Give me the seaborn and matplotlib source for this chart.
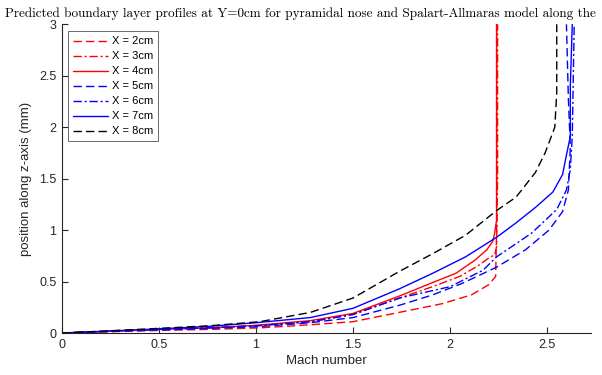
import matplotlib
matplotlib.use("Agg")
import matplotlib.pyplot as plt
import seaborn as sns
import pandas as pd

# Boundary layer profiles (Mach number vs. wall-normal position in mm)
labels = ["X = 2cm", "X = 3cm", "X = 4cm", "X = 5cm", "X = 6cm", "X = 7cm", "X = 8cm"]

z_x2 = [0, 0.012, 0.025, 0.035, 0.05, 0.08, 0.11, 0.22, 0.285, 0.37, 0.47, 0.55, 1.0, 2.0, 3.0]
m_x2 = [0, 0.25, 0.50, 0.76, 1.02, 1.28, 1.50, 1.79, 1.96, 2.11, 2.20, 2.235, 2.24, 2.24, 2.24]

z_x3 = [0, 0.017, 0.035, 0.05, 0.07, 0.11, 0.18, 0.34, 0.45, 0.55, 0.66, 0.73, 0.76, 0.84, 1.5, 3.0]
m_x3 = [0, 0.25, 0.50, 0.76, 1.00, 1.28, 1.50, 1.74, 1.91, 2.05, 2.15, 2.20, 2.23, 2.24, 2.245, 2.245]

z_x4 = [0, 0.017, 0.035, 0.05, 0.075, 0.12, 0.19, 0.36, 0.49, 0.58, 0.71, 0.81, 0.89, 0.97, 1.10, 3.0]
m_x4 = [0, 0.25, 0.50, 0.76, 1.00, 1.28, 1.50, 1.74, 1.91, 2.03, 2.13, 2.19, 2.22, 2.23, 2.24, 2.24]

z_x5 = [0, 0.015, 0.03, 0.045, 0.06, 0.10, 0.15, 0.27, 0.37, 0.48, 0.64, 0.81, 1.00, 1.18, 1.39, 1.81, 2.27, 3.0]
m_x5 = [0, 0.25, 0.50, 0.76, 1.00, 1.28, 1.50, 1.74, 1.91, 2.06, 2.24, 2.39, 2.51, 2.58, 2.61, 2.62, 2.61, 2.60]

z_x6 = [0, 0.017, 0.035, 0.05, 0.07, 0.11, 0.18, 0.34, 0.45, 0.61, 0.74, 0.97, 1.20, 1.39, 1.59, 1.91, 3.0]
m_x6 = [0, 0.25, 0.50, 0.76, 1.00, 1.28, 1.50, 1.74, 2.00, 2.17, 2.24, 2.42, 2.55, 2.60, 2.62, 2.63, 2.64]

z_x7 = [0, 0.02, 0.04, 0.065, 0.10, 0.15, 0.24, 0.43, 0.58, 0.74, 0.93, 1.07, 1.22, 1.37, 1.54, 1.73, 1.91, 2.40, 3.0]
m_x7 = [0, 0.25, 0.50, 0.76, 1.00, 1.28, 1.50, 1.74, 1.91, 2.08, 2.24, 2.34, 2.44, 2.53, 2.58, 2.60, 2.62, 2.62, 2.63]

z_x8 = [0, 0.022, 0.045, 0.07, 0.11, 0.20, 0.34, 0.60, 0.77, 0.95, 1.19, 1.32, 1.56, 1.75, 2.00, 2.34, 3.0]
m_x8 = [0, 0.25, 0.50, 0.76, 1.02, 1.28, 1.50, 1.74, 1.91, 2.08, 2.24, 2.34, 2.44, 2.49, 2.54, 2.55, 2.55]

profiles = [(m_x2, z_x2), (m_x3, z_x3), (m_x4, z_x4), (m_x5, z_x5),
            (m_x6, z_x6), (m_x7, z_x7), (m_x8, z_x8)]

colors = ["#ff0000", "#ff0000", "#ff0000", "#0000ff", "#0000ff", "#0000ff", "#000000"]
styles = [(0, (6, 3)), (0, (6, 2, 1.5, 2)), "-", (0, (6, 3)), (0, (6, 2, 1.5, 2)), "-", (0, (6, 3))]

rows = []
for lab, (m, z) in zip(labels, profiles):
    for i, (mi, zi) in enumerate(zip(m, z)):
        rows.append({"series": lab, "order": i, "mach": mi, "z": zi})
df = pd.DataFrame(rows)

sns.set_style("white")
plt.rcParams["font.family"] = ["Liberation Sans", "DejaVu Sans"]

fig = plt.figure(figsize=(6.02, 3.75), dpi=100)
ax = fig.add_axes([62 / 602, 1 - 333 / 375, (590.7 - 62) / 602, (333 - 24.3) / 375])

axis_gray = "#262626"
for lab, c, ls in zip(labels, colors, styles):
    sub = df[df["series"] == lab]
    sns.lineplot(data=sub, x="mach", y="z", sort=False, estimator=None,
                 color=c, linestyle=ls, linewidth=1.0, ax=ax, label=lab)

ax.set_xlim(0, 2.725)
ax.set_ylim(0, 3)
ax.set_xticks([0, 0.5, 1, 1.5, 2, 2.5])
ax.set_xticklabels(["0", "0.5", "1", "1.5", "2", "2.5"])
ax.set_yticks([0, 0.5, 1, 1.5, 2, 2.5, 3])
ax.set_yticklabels(["0", "0.5", "1", "1.5", "2", "2.5", "3"])

for side in ["top", "right"]:
    ax.spines[side].set_visible(False)
for side in ["left", "bottom"]:
    ax.spines[side].set_color(axis_gray)
    ax.spines[side].set_linewidth(0.8)

ax.tick_params(axis="both", direction="in", length=4, width=0.8, colors=axis_gray,
               labelsize=9, pad=4, bottom=True, left=True)
ax.set_xlabel("Mach number", fontsize=9.5, color=axis_gray, labelpad=3)
ax.set_ylabel("position along z-axis (mm)", fontsize=9.5, color=axis_gray, labelpad=5)

leg = ax.legend(loc="upper left", bbox_to_anchor=(0.011, 0.977), fontsize=8,
                frameon=True, fancybox=False, edgecolor="#262626",
                handlelength=3.2, handletextpad=0.3, labelspacing=0.45,
                borderpad=0.45, borderaxespad=0.0)
leg.get_frame().set_linewidth(0.6)
for t in leg.get_texts():
    t.set_color("#000000")

fig.text(5 / 602, 1 - 17 / 375,
         "Predicted boundary layer profiles at Y=0cm for pyramidal nose and Spalart-Allmaras model along the",
         family=["cmr10", "DejaVu Serif"], fontsize=9.5, ha="left", va="baseline", color="#000000")

fig.savefig("out.png", dpi=100)
